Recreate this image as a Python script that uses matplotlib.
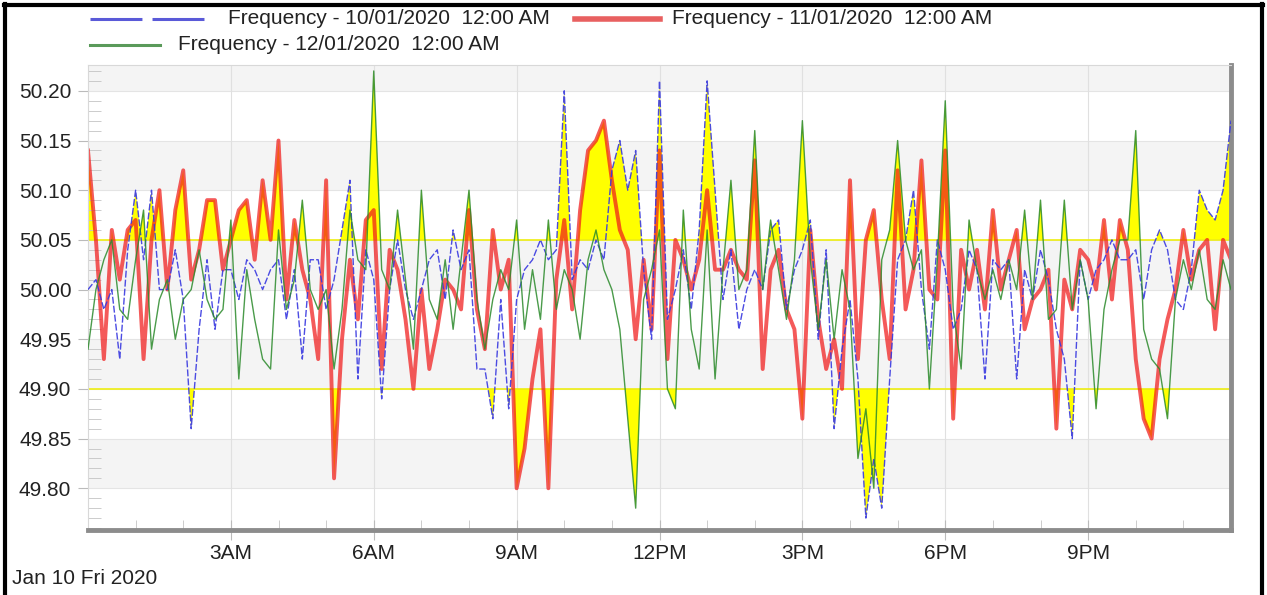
import numpy as np
import matplotlib
matplotlib.use('Agg')
import matplotlib.pyplot as plt
from matplotlib.lines import Line2D
from matplotlib.ticker import MultipleLocator, FixedLocator

plt.rcParams['font.family'] = ['Liberation Sans', 'DejaVu Sans']

# sampling times, every 10 minutes over the day
minutes = np.arange(0, 24 * 60 + 1, 10)
hours = minutes / 60

# one row = one hour (00, 10, 20, 30, 40, 50 min)
freq_10 = [
    50.00, 50.01, 49.98, 50.00, 49.93, 50.04,
    50.10, 50.03, 50.10, 50.00, 50.00, 50.04,
    49.99, 49.86, 49.96, 50.03, 49.96, 50.02,
    50.02, 49.99, 50.03, 50.02, 50.00, 50.02,
    50.03, 49.97, 50.02, 49.93, 50.03, 50.03,
    49.98, 50.01, 50.06, 50.11, 49.91, 50.04,
    50.01, 49.89, 50.00, 50.05, 50.00, 49.97,
    50.00, 50.03, 50.04, 49.99, 50.06, 50.02,
    50.04, 49.92, 49.92, 49.87, 49.99, 49.88,
    49.99, 50.02, 50.03, 50.05, 50.03, 50.04,
    50.20, 50.01, 50.03, 50.02, 50.05, 50.03,
    50.12, 50.15, 50.10, 50.14, 50.02, 49.95,
    50.21, 49.97, 50.00, 50.04, 49.98, 50.06,
    50.21, 50.10, 49.99, 50.04, 49.96, 50.00,
    50.02, 50.00, 50.06, 50.07, 49.98, 50.02,
    50.04, 50.07, 49.95, 50.04, 49.86, 49.94,
    49.99, 49.91, 49.77, 49.83, 49.78, 49.91,
    50.03, 50.05, 50.10, 50.00, 49.94, 50.05,
    50.02, 49.96, 49.98, 50.04, 50.02, 49.91,
    50.03, 50.02, 50.03, 49.91, 50.02, 49.99,
    50.04, 50.01, 49.96, 49.93, 49.85, 50.03,
    49.99, 50.02, 50.03, 50.05, 50.03, 50.03,
    50.04, 49.99, 50.04, 50.06, 50.04, 49.99,
    49.98, 50.02, 50.10, 50.08, 50.07, 50.10,
    50.17,
]

freq_11 = [
    50.14, 50.05, 49.93, 50.06, 50.01, 50.06,
    50.07, 49.93, 50.05, 50.10, 50.00, 50.08,
    50.12, 50.01, 50.04, 50.09, 50.09, 50.02,
    50.05, 50.08, 50.09, 50.03, 50.11, 50.05,
    50.15, 49.99, 50.07, 50.02, 49.99, 49.93,
    50.11, 49.81, 49.95, 50.03, 49.97, 50.07,
    50.08, 49.92, 50.04, 50.02, 49.97, 49.90,
    50.00, 49.92, 49.96, 50.01, 50.00, 49.98,
    50.08, 49.98, 49.94, 50.06, 50.00, 50.03,
    49.80, 49.84, 49.91, 49.96, 49.80, 50.01,
    50.07, 49.98, 50.08, 50.14, 50.15, 50.17,
    50.11, 50.06, 50.04, 49.95, 50.03, 49.96,
    50.14, 49.93, 50.05, 50.03, 50.00, 50.03,
    50.10, 50.02, 50.02, 50.04, 50.02, 50.01,
    50.13, 49.92, 50.02, 50.04, 49.98, 49.96,
    49.87, 50.06, 49.97, 49.92, 49.95, 49.90,
    50.11, 49.93, 50.05, 50.08, 49.99, 49.93,
    50.12, 49.98, 50.02, 50.13, 50.00, 49.99,
    50.14, 49.87, 50.04, 50.00, 50.04, 49.98,
    50.08, 50.00, 50.03, 50.06, 49.96, 49.99,
    50.00, 50.02, 49.86, 50.01, 49.98, 50.04,
    50.03, 50.00, 50.07, 49.99, 50.07, 50.04,
    49.93, 49.87, 49.85, 49.93, 49.97, 50.00,
    50.06, 50.01, 50.04, 50.05, 49.96, 50.05,
    50.03,
]

freq_12 = [
    49.94, 50.00, 50.03, 50.05, 49.98, 49.97,
    50.03, 50.08, 49.94, 49.99, 50.01, 49.95,
    49.99, 50.00, 50.04, 49.99, 49.97, 49.98,
    50.07, 49.91, 50.02, 49.97, 49.93, 49.92,
    50.06, 49.98, 50.01, 50.09, 50.00, 49.98,
    50.00, 49.92, 49.98, 50.08, 50.03, 50.02,
    50.22, 50.02, 50.00, 50.08, 50.01, 49.94,
    50.10, 49.99, 49.97, 50.03, 49.96, 50.03,
    50.10, 49.99, 49.94, 49.99, 50.02, 50.00,
    50.07, 49.96, 50.02, 49.97, 50.07, 49.98,
    50.02, 50.00, 49.95, 50.03, 50.06, 50.02,
    50.00, 49.96, 49.87, 49.78, 49.99, 50.02,
    50.06, 49.90, 49.88, 50.08, 49.96, 49.92,
    50.06, 49.91, 50.02, 50.11, 50.00, 50.02,
    50.16, 50.00, 50.07, 50.02, 49.97, 50.03,
    50.17, 50.03, 49.96, 50.03, 49.95, 50.02,
    49.98, 49.83, 49.88, 49.80, 50.03, 50.06,
    50.15, 50.05, 50.02, 50.04, 49.90, 50.03,
    50.19, 49.98, 49.92, 50.07, 50.02, 49.99,
    50.02, 49.99, 50.03, 50.00, 50.08, 49.99,
    50.09, 49.97, 49.98, 50.09, 49.98, 50.03,
    49.99, 49.88, 49.98, 50.02, 50.05, 50.05,
    50.16, 49.96, 49.93, 49.92, 49.87, 49.99,
    50.03, 50.00, 50.04, 49.99, 49.98, 50.03,
    50.00,
]

series_labels = [
    'Frequency - 10/01/2020  12:00 AM',
    'Frequency - 11/01/2020  12:00 AM',
    'Frequency - 12/01/2020  12:00 AM',
]
tick_hours = [3, 6, 9, 12, 15, 18, 21]
tick_labels = ['3AM', '6AM', '9AM', '12PM', '3PM', '6PM', '9PM']
y_ticks = [49.80, 49.85, 49.90, 49.95, 50.00, 50.05, 50.10, 50.15, 50.20]
upper_limit = 50.05
lower_limit = 49.90

W, H = 1267, 595
fig = plt.figure(figsize=(W / 100, H / 100), dpi=100)
ax = fig.add_axes([88 / W, 1 - 530 / H, (1231 - 88) / W, (530 - 65) / H])
ax.set_xlim(0, 24)
ax.set_ylim(49.758, 50.226)

# alternating bands
for lo in [49.80, 49.90, 50.00, 50.10, 50.20]:
    ax.axhspan(lo, lo + 0.05, color='#f4f4f4', lw=0, zorder=0)
for v in y_ticks:
    ax.axhline(v, color='#e4e4e4', lw=0.8, zorder=0.2)
for h in tick_hours:
    ax.axvline(h, color='#e0e0e0', lw=0.8, zorder=0.2)

# yellow where frequency leaves the band
for y in [freq_10, freq_11, freq_12]:
    y = np.array(y)
    ax.fill_between(hours, y, upper_limit, where=y > upper_limit,
                    interpolate=True, color='#ffff00', lw=0, zorder=1)
    ax.fill_between(hours, y, lower_limit, where=y < lower_limit,
                    interpolate=True, color='#ffff00', lw=0, zorder=1)

ax.axhline(upper_limit, color='#eeee10', lw=1.2, zorder=1.2)
ax.axhline(lower_limit, color='#eeee10', lw=1.2, zorder=1.2)

ax.plot(hours, freq_11, color='#f01a1a', lw=2.8, alpha=0.72, zorder=2)
ax.plot(hours, freq_10, color='#3838e0', lw=1.0, dashes=(5, 1.5), alpha=0.9, zorder=3)
ax.plot(hours, freq_12, color='#2b8a2b', lw=1.0, alpha=0.85, zorder=3)

# axes look
ax.set_yticks(y_ticks)
ax.set_yticklabels(['%.2f' % v for v in y_ticks])
ax.yaxis.set_minor_locator(MultipleLocator(0.01))
ax.tick_params(axis='y', which='major', direction='out', length=7, color='#bbbbbb',
               labelsize=15, pad=5, labelcolor='#222222')
ax.tick_params(axis='y', which='minor', direction='in', length=9, color='#c4c4c4')

ax.xaxis.set_major_locator(FixedLocator(tick_hours))
ax.set_xticklabels(tick_labels)
ax.xaxis.set_minor_locator(MultipleLocator(1))
ax.tick_params(axis='x', which='major', direction='inout', length=14, color='#bbbbbb',
               labelsize=15, pad=3, labelcolor='#222222')
ax.tick_params(axis='x', which='minor', direction='in', length=7, color='#c4c4c4')

ax.spines['top'].set_color('#d8d8d8')
ax.spines['left'].set_color('#d8d8d8')
ax.spines['bottom'].set_color('#8c8c8c')
ax.spines['bottom'].set_linewidth(3.5)
ax.spines['right'].set_color('#8c8c8c')
ax.spines['right'].set_linewidth(3.5)

# legend drawn by hand above the plot
def fx(px):
    return px / W

def fy(py):
    return 1 - py / H

fig.add_artist(Line2D([fx(90), fx(205)], [fy(19), fy(19)], color='#5a5ad8', lw=2.2,
                      dashes=(17, 3.3)))
fig.add_artist(Line2D([fx(575), fx(660)], [fy(19), fy(19)], color='#e86060', lw=4.0))
fig.add_artist(Line2D([fx(90), fx(160)], [fy(45), fy(45)], color='#5a9a5a', lw=2.2))
fig.text(fx(228), fy(19), series_labels[0], fontsize=15, va='center', color='#222222')
fig.text(fx(672), fy(19), series_labels[1], fontsize=15, va='center', color='#222222')
fig.text(fx(178), fy(45), series_labels[2], fontsize=15, va='center', color='#222222')

fig.text(fx(12), fy(578), 'Jan 10 Fri 2020', fontsize=15, va='center', color='#222222')

# black frame of the screenshot
fig.add_artist(Line2D([fx(5), fx(5)], [0, fy(4)], color='black', lw=3))
fig.add_artist(Line2D([fx(4), fx(1263)], [fy(5), fy(5)], color='black', lw=3))
fig.add_artist(Line2D([fx(1262), fx(1262)], [0, fy(4)], color='black', lw=3))

fig.savefig('out.png', dpi=100, facecolor='white')
